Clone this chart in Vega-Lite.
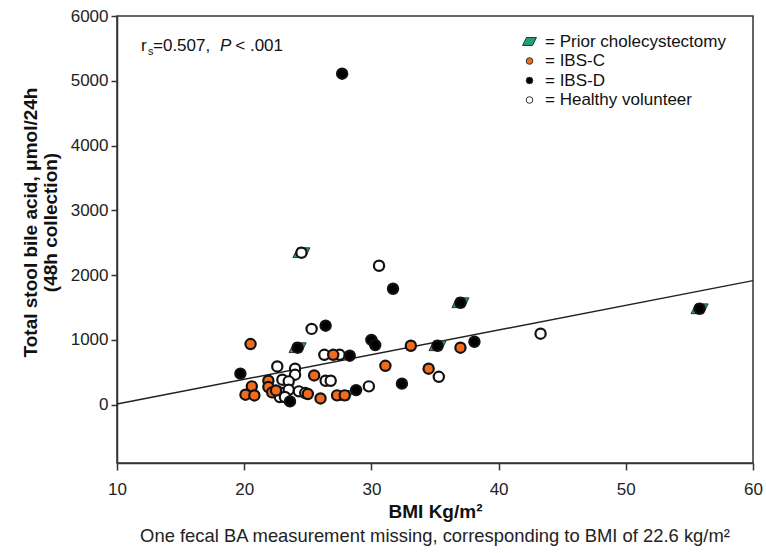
{
  "$schema": "https://vega.github.io/schema/vega-lite/v6.json",
  "width": 636,
  "height": 447,
  "autosize": {"type": "none"},
  "padding": {"left": 117, "top": 16, "right": 13, "bottom": 90},
  "background": "white",
  "config": {
    "font": "Liberation Sans",
    "view": {"stroke": "#333", "strokeWidth": 1.5},
    "axis": {
      "domainColor": "#333", "domainWidth": 1.5, "tickColor": "#333", "tickWidth": 1.5,
      "grid": false, "labelColor": "#222", "titleColor": "#111",
      "labelFont": "Liberation Sans", "titleFont": "Liberation Sans",
      "labelFontSize": 17, "titleFontSize": 19, "titleFontWeight": "bold"
    }
  },
  "title": {
    "text": "One fecal BA measurement missing, corresponding to BMI of 22.6 kg/m²",
    "orient": "bottom", "fontSize": 18.4, "fontWeight": "normal",
    "font": "Liberation Sans", "offset": 6, "color": "#222", "anchor": "middle"
  },
  "datasets": {
    "patients": [
      {"bmi": 22.6, "ba": 590, "grp": "Healthy volunteer"},
      {"bmi": 24.0, "ba": 555, "grp": "Healthy volunteer"},
      {"bmi": 24.0, "ba": 463, "grp": "Healthy volunteer"},
      {"bmi": 26.4, "ba": 370, "grp": "Healthy volunteer"},
      {"bmi": 26.8, "ba": 370, "grp": "Healthy volunteer"},
      {"bmi": 23.0, "ba": 386, "grp": "Healthy volunteer"},
      {"bmi": 23.5, "ba": 360, "grp": "Healthy volunteer"},
      {"bmi": 22.8, "ba": 190, "grp": "Healthy volunteer"},
      {"bmi": 23.5, "ba": 231, "grp": "Healthy volunteer"},
      {"bmi": 22.8, "ba": 119, "grp": "Healthy volunteer"},
      {"bmi": 23.2, "ba": 119, "grp": "Healthy volunteer"},
      {"bmi": 24.3, "ba": 206, "grp": "Healthy volunteer"},
      {"bmi": 24.8, "ba": 180, "grp": "Healthy volunteer"},
      {"bmi": 24.5, "ba": 2346, "grp": "Healthy volunteer"},
      {"bmi": 30.6, "ba": 2145, "grp": "Healthy volunteer"},
      {"bmi": 43.3, "ba": 1096, "grp": "Healthy volunteer"},
      {"bmi": 25.3, "ba": 1170, "grp": "Healthy volunteer"},
      {"bmi": 26.3, "ba": 770, "grp": "Healthy volunteer"},
      {"bmi": 27.5, "ba": 770, "grp": "Healthy volunteer"},
      {"bmi": 35.3, "ba": 430, "grp": "Healthy volunteer"},
      {"bmi": 29.8, "ba": 283, "grp": "Healthy volunteer"},
      {"bmi": 20.5, "ba": 936, "grp": "IBS-C"},
      {"bmi": 27.0, "ba": 770, "grp": "IBS-C"},
      {"bmi": 33.1, "ba": 910, "grp": "IBS-C"},
      {"bmi": 37.0, "ba": 880, "grp": "IBS-C"},
      {"bmi": 31.1, "ba": 600, "grp": "IBS-C"},
      {"bmi": 34.5, "ba": 556, "grp": "IBS-C"},
      {"bmi": 25.5, "ba": 452, "grp": "IBS-C"},
      {"bmi": 21.9, "ba": 370, "grp": "IBS-C"},
      {"bmi": 20.6, "ba": 283, "grp": "IBS-C"},
      {"bmi": 21.9, "ba": 272, "grp": "IBS-C"},
      {"bmi": 20.1, "ba": 154, "grp": "IBS-C"},
      {"bmi": 20.8, "ba": 143, "grp": "IBS-C"},
      {"bmi": 22.2, "ba": 190, "grp": "IBS-C"},
      {"bmi": 22.5, "ba": 220, "grp": "IBS-C"},
      {"bmi": 25.0, "ba": 165, "grp": "IBS-C"},
      {"bmi": 26.0, "ba": 97, "grp": "IBS-C"},
      {"bmi": 27.3, "ba": 144, "grp": "IBS-C"},
      {"bmi": 27.9, "ba": 144, "grp": "IBS-C"},
      {"bmi": 27.7, "ba": 5110, "grp": "IBS-D"},
      {"bmi": 31.7, "ba": 1790, "grp": "IBS-D"},
      {"bmi": 37.0, "ba": 1574, "grp": "IBS-D"},
      {"bmi": 55.8, "ba": 1481, "grp": "IBS-D"},
      {"bmi": 38.1, "ba": 972, "grp": "IBS-D"},
      {"bmi": 35.2, "ba": 910, "grp": "IBS-D"},
      {"bmi": 30.0, "ba": 1000, "grp": "IBS-D"},
      {"bmi": 30.3, "ba": 920, "grp": "IBS-D"},
      {"bmi": 26.4, "ba": 1220, "grp": "IBS-D"},
      {"bmi": 24.2, "ba": 880, "grp": "IBS-D"},
      {"bmi": 28.3, "ba": 756, "grp": "IBS-D"},
      {"bmi": 19.7, "ba": 480, "grp": "IBS-D"},
      {"bmi": 32.4, "ba": 325, "grp": "IBS-D"},
      {"bmi": 28.8, "ba": 225, "grp": "IBS-D"},
      {"bmi": 23.6, "ba": 51, "grp": "IBS-D"}
    ],
    "chole": [
      {"bmi": 24.5, "ba": 2346, "grp": "Prior cholecystectomy"},
      {"bmi": 37.0, "ba": 1574, "grp": "Prior cholecystectomy"},
      {"bmi": 55.8, "ba": 1481, "grp": "Prior cholecystectomy"},
      {"bmi": 35.2, "ba": 910, "grp": "Prior cholecystectomy"},
      {"bmi": 24.2, "ba": 880, "grp": "Prior cholecystectomy"},
      {"bmi": 27.9, "ba": 144, "grp": "Prior cholecystectomy"}
    ],
    "fit": [
      {"bmi": 10, "ba": 10},
      {"bmi": 60, "ba": 1915}
    ],
    "anchor": [{}]
  },
  "layer": [
    {
      "data": {"name": "fit"},
      "mark": {"type": "line", "color": "#222", "strokeWidth": 1.5},
      "encoding": {
        "x": {"field": "bmi", "type": "quantitative", "scale": {"domain": [10, 60], "nice": false, "zero": false},
          "axis": {"title": "BMI Kg/m²", "values": [10, 20, 30, 40, 50, 60], "tickSize": 7, "labelPadding": 11, "titlePadding": 5, "labelFlush": false}},
        "y": {"field": "ba", "type": "quantitative", "scale": {"domain": [-900, 6000], "nice": false, "zero": false},
          "axis": {"title": ["Total stool bile acid, μmol/24h", "(48h collection)"], "format": "d", "values": [0, 1000, 2000, 3000, 4000, 5000, 6000], "tickSize": 6, "labelPadding": 3, "titlePadding": 10, "titleLineHeight": 20, "titleY": 206}}
      }
    },
    {
      "data": {"name": "chole"},
      "mark": {"type": "point", "filled": true, "size": 66, "stroke": "#333", "strokeWidth": 1, "opacity": 1},
      "encoding": {
        "x": {"field": "bmi", "type": "quantitative"},
        "y": {"field": "ba", "type": "quantitative"},
        "fill": {"field": "grp", "type": "nominal"},
        "shape": {"field": "grp", "type": "nominal"}
      }
    },
    {
      "data": {"name": "patients"},
      "mark": {"type": "point", "filled": true, "size": 105, "stroke": "#111", "strokeWidth": 2.2, "opacity": 1},
      "encoding": {
        "x": {"field": "bmi", "type": "quantitative"},
        "y": {"field": "ba", "type": "quantitative"},
        "fill": {
          "field": "grp", "type": "nominal",
          "scale": {"domain": ["Prior cholecystectomy", "IBS-C", "IBS-D", "Healthy volunteer"], "range": ["#1fa07a", "#f26b1d", "#000000", "#ffffff"]},
          "legend": {
            "title": null, "orient": "none", "legendX": 404, "legendY": 17,
            "labelExpr": "'= ' + datum.label", "labelFontSize": 17, "labelFont": "Liberation Sans", "labelColor": "#111", "labelLimit": 300,
            "symbolSize": 44, "symbolStrokeColor": "#222", "symbolStrokeWidth": 1, "rowPadding": 1.5, "labelOffset": 7
          }
        },
        "shape": {
          "field": "grp", "type": "nominal",
          "scale": {"domain": ["Prior cholecystectomy", "IBS-C", "IBS-D", "Healthy volunteer"], "range": ["M -2.1 1.2 L 0.9 1.2 L 2.1 -1.2 L -0.9 -1.2 Z", "circle", "circle", "circle"]}
        }
      }
    },
    {
      "data": {"name": "anchor"},
      "mark": {"type": "text", "text": "r", "fontSize": 17, "align": "left", "baseline": "middle", "color": "#111"},
      "encoding": {"x": {"datum": 11.89, "type": "quantitative"}, "y": {"datum": 5540, "type": "quantitative"}}
    },
    {
      "data": {"name": "anchor"},
      "mark": {"type": "text", "text": "s", "fontSize": 11, "align": "left", "baseline": "middle", "dy": 6, "color": "#111"},
      "encoding": {"x": {"datum": 12.44, "type": "quantitative"}, "y": {"datum": 5540, "type": "quantitative"}}
    },
    {
      "data": {"name": "anchor"},
      "mark": {"type": "text", "text": "=0.507,", "fontSize": 17, "align": "left", "baseline": "middle", "color": "#111"},
      "encoding": {"x": {"datum": 12.83, "type": "quantitative"}, "y": {"datum": 5540, "type": "quantitative"}}
    },
    {
      "data": {"name": "anchor"},
      "mark": {"type": "text", "text": "P", "fontSize": 17, "fontStyle": "italic", "align": "left", "baseline": "middle", "color": "#111"},
      "encoding": {"x": {"datum": 18.1, "type": "quantitative"}, "y": {"datum": 5540, "type": "quantitative"}}
    },
    {
      "data": {"name": "anchor"},
      "mark": {"type": "text", "text": "< .001", "fontSize": 17, "align": "left", "baseline": "middle", "color": "#111"},
      "encoding": {"x": {"datum": 19.3, "type": "quantitative"}, "y": {"datum": 5540, "type": "quantitative"}}
    }
  ]
}
